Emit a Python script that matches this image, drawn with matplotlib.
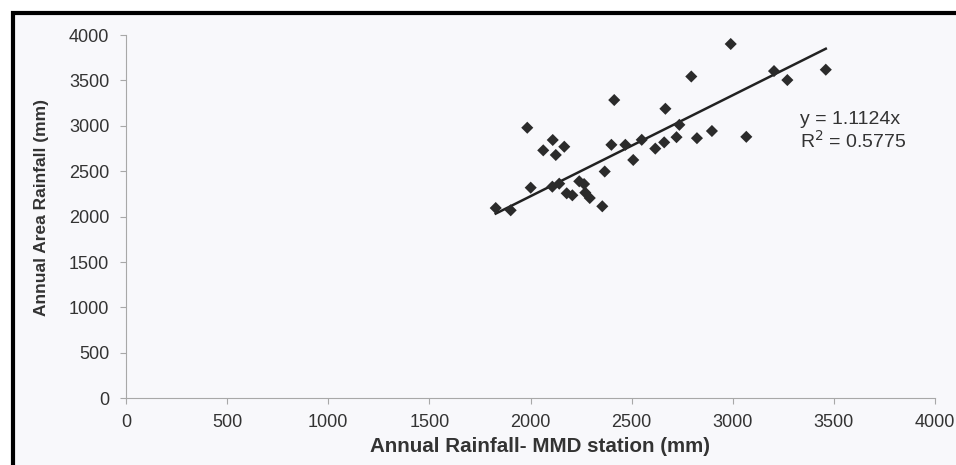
import matplotlib
matplotlib.use("Agg")
import matplotlib.pyplot as plt
from matplotlib.patches import Rectangle
import numpy as np

# Data
station_rain = [2990, 2795, 2414, 2667, 2736, 1984, 2897, 2722, 2823, 2110,
                2167, 2063, 2125, 2400, 2469, 2550, 2661, 2617, 2508, 2367,
                2001, 2108, 2142, 2241, 2265, 2179, 2207, 2271, 2293, 2355,
                1828, 1902, 3204, 3270, 3460, 3067]
area_rain = [3901, 3543, 3284, 3188, 3011, 2979, 2943, 2875, 2864, 2844,
             2770, 2730, 2679, 2791, 2791, 2846, 2818, 2749, 2624, 2497,
             2319, 2330, 2363, 2389, 2359, 2257, 2235, 2264, 2205, 2114,
             2095, 2070, 3603, 3504, 3618, 2879]
slope = 1.1124
r2 = 0.5775
x_ticks = [0, 500, 1000, 1500, 2000, 2500, 3000, 3500, 4000]
y_ticks = [0, 500, 1000, 1500, 2000, 2500, 3000, 3500, 4000]

W, H = 956, 465
fig = plt.figure(figsize=(W / 100, H / 100), dpi=100, facecolor="white")

# scanned-page frame
frame = Rectangle((13 / W, -0.1), 1.2, 1 - 13 / H + 0.1, transform=fig.transFigure,
                  facecolor="#f8f8fb", edgecolor="black", linewidth=3, zorder=-10)
fig.patches.append(frame)

ax = fig.add_axes([126 / W, (H - 398.3) / H, (935 - 126) / W, (398.3 - 35) / H])
ax.set_zorder(5)
ax.set_facecolor("none")
ax.set_xlim(0, 4000)
ax.set_ylim(0, 4000)

for s in ["top", "right"]:
    ax.spines[s].set_visible(False)
for s in ["left", "bottom"]:
    ax.spines[s].set_color("#a8a8a8")
    ax.spines[s].set_linewidth(0.8)

ax.set_xticks(x_ticks)
ax.set_yticks(y_ticks)
ax.tick_params(axis="both", direction="out", length=4, width=0.8, color="#a8a8a8",
               labelsize=13, labelcolor="#333333")
ax.tick_params(axis="x", pad=7.5)
ax.tick_params(axis="y", pad=8)
for lab in ax.get_xticklabels() + ax.get_yticklabels():
    lab.set_fontfamily(["Liberation Sans", "DejaVu Sans"])

ax.scatter(station_rain, area_rain, marker="D", s=38, color="#2b2b2b",
           edgecolors="none", zorder=3, clip_on=False)

xs = np.array([min(station_rain), max(station_rain)])
ax.plot(xs, slope * xs, color="#222222", linewidth=1.8, zorder=2, clip_on=False)

ax.text(800 / W, 1 - 119 / H, "y = 1.1124x", transform=fig.transFigure,
        fontsize=14, color="#333333", family=["Liberation Sans", "DejaVu Sans"],
        va="center", ha="left")
ax.text(800 / W, 1 - 141 / H, "R$^2$ = 0.5775", transform=fig.transFigure,
        fontsize=14, color="#333333", family=["Liberation Sans", "DejaVu Sans"],
        va="center", ha="left")

lab_font = ["Liberation Sans", "DejaVu Sans"]
fig.text(540 / W, 1 - 446 / H, "Annual Rainfall- MMD station (mm)", ha="center",
         va="center", fontsize=14.8, fontweight="bold", color="#333333", family=lab_font)
fig.text(42 / W, 1 - 207 / H, "Annual Area Rainfall (mm)", ha="center",
         va="center", rotation=90, fontsize=12.5, fontweight="bold", color="#333333",
         family=lab_font)

fig.savefig("out.png", dpi=100, facecolor="white")
